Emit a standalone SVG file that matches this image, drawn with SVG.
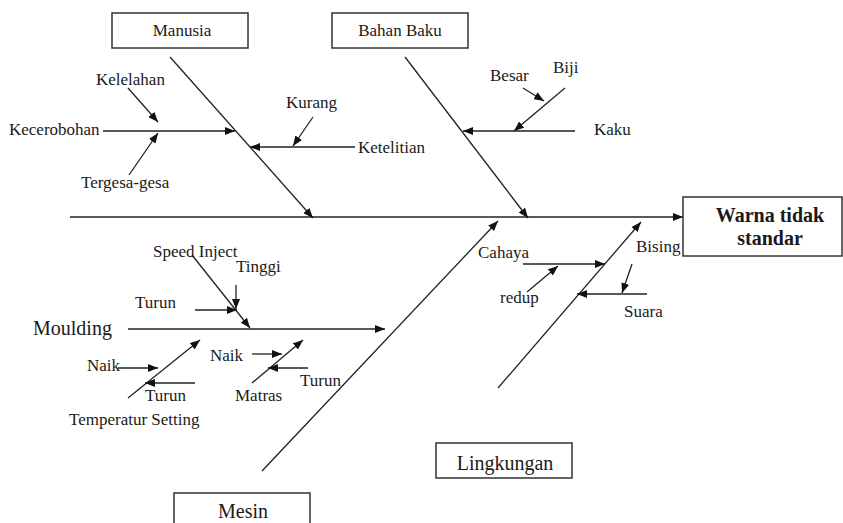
<svg xmlns="http://www.w3.org/2000/svg" width="843" height="523" viewBox="0 0 843 523">
<defs>
<marker id="ah" viewBox="0 0 10 8" refX="10" refY="4" markerWidth="10" markerHeight="8" markerUnits="userSpaceOnUse" orient="auto">
<path d="M0,0 L10,4 L0,8 Z" fill="#111"/>
</marker>
</defs>
<style>
text{font-family:"Liberation Serif","Times New Roman",serif;fill:#1a1a1a;font-size:17px}
.big{font-size:20px}
.bold{font-weight:bold;font-size:20px}
.box{fill:#fff;stroke:#333;stroke-width:1.5}
.ln{stroke:#222;stroke-width:1.3;fill:none}
.ar{stroke:#222;stroke-width:1.3;fill:none;marker-end:url(#ah)}
</style>
<rect width="843" height="523" fill="#fff"/>
<g id="connectors">
<line class="ar" x1="70" y1="217" x2="683" y2="217"/>
<line class="ar" x1="170" y1="57" x2="313" y2="218"/>
<line class="ar" x1="405" y1="57" x2="528" y2="218"/>
<line class="ar" x1="262" y1="471" x2="498" y2="221"/>
<line class="ar" x1="498" y1="388" x2="641" y2="222"/>
<line class="ar" x1="103" y1="131" x2="235" y2="131"/>
<line class="ar" x1="128" y1="88" x2="158" y2="122"/>
<line class="ar" x1="129" y1="175" x2="158" y2="133"/>
<line class="ar" x1="355" y1="147" x2="250" y2="147"/>
<line class="ar" x1="313" y1="117" x2="293" y2="146"/>
<line class="ar" x1="575" y1="131" x2="463" y2="131"/>
<line class="ar" x1="565" y1="88" x2="514" y2="131"/>
<line class="ar" x1="523" y1="88" x2="544" y2="101"/>
<line class="ar" x1="128" y1="329" x2="385" y2="329"/>
<line class="ar" x1="192" y1="255" x2="250" y2="328"/>
<line class="ar" x1="195" y1="310" x2="237" y2="310"/>
<line class="ar" x1="236" y1="285" x2="236" y2="309"/>
<line class="ar" x1="128" y1="398" x2="200" y2="340"/>
<line class="ar" x1="118" y1="368" x2="158" y2="368"/>
<line class="ar" x1="195" y1="383" x2="145" y2="383"/>
<line class="ar" x1="252" y1="383" x2="303" y2="340"/>
<line class="ar" x1="252" y1="354" x2="282" y2="354"/>
<line class="ar" x1="308" y1="368" x2="268" y2="368"/>
<line class="ar" x1="523" y1="264" x2="605" y2="264"/>
<line class="ar" x1="527" y1="292" x2="558" y2="266"/>
<line class="ar" x1="647" y1="294" x2="577" y2="294"/>
<line class="ar" x1="632" y1="264" x2="622" y2="293"/>
</g>
<g id="manusia">
<rect class="box" x="112" y="13" width="136" height="35"/>
<text x="182" y="36" text-anchor="middle">Manusia</text>
</g>
<g id="bahan-baku">
<rect class="box" x="332" y="13" width="136" height="35"/>
<text x="400" y="36" text-anchor="middle">Bahan Baku</text>
</g>
<g id="warna">
<rect class="box" x="683" y="197" width="159" height="59"/>
<text class="bold" x="770" y="222" text-anchor="middle">Warna tidak</text>
<text class="bold" x="770" y="245" text-anchor="middle">standar</text>
</g>
<g id="lingkungan">
<rect class="box" x="436" y="443" width="136" height="35"/>
<text class="big" x="505" y="470" text-anchor="middle">Lingkungan</text>
</g>
<g id="mesin">
<rect class="box" x="174" y="493" width="136" height="40"/>
<text class="big" x="243" y="518" text-anchor="middle">Mesin</text>
</g>
<g id="labels">
<text x="96" y="85">Kelelahan</text>
<text x="9" y="135">Kecerobohan</text>
<text x="81" y="188">Tergesa-gesa</text>
<text x="286" y="108">Kurang</text>
<text x="358" y="153">Ketelitian</text>
<text x="490" y="81">Besar</text>
<text x="553" y="73">Biji</text>
<text x="594" y="135">Kaku</text>
<text x="153" y="257">Speed Inject</text>
<text x="236" y="272">Tinggi</text>
<text x="135" y="308">Turun</text>
<text class="big" x="33" y="335">Moulding</text>
<text x="87" y="371">Naik</text>
<text x="145" y="401">Turun</text>
<text x="69" y="425">Temperatur Setting</text>
<text x="210" y="361">Naik</text>
<text x="235" y="401">Matras</text>
<text x="300" y="386">Turun</text>
<text x="478" y="258">Cahaya</text>
<text x="500" y="303">redup</text>
<text x="636" y="252">Bising</text>
<text x="624" y="317">Suara</text>
</g>
</svg>
